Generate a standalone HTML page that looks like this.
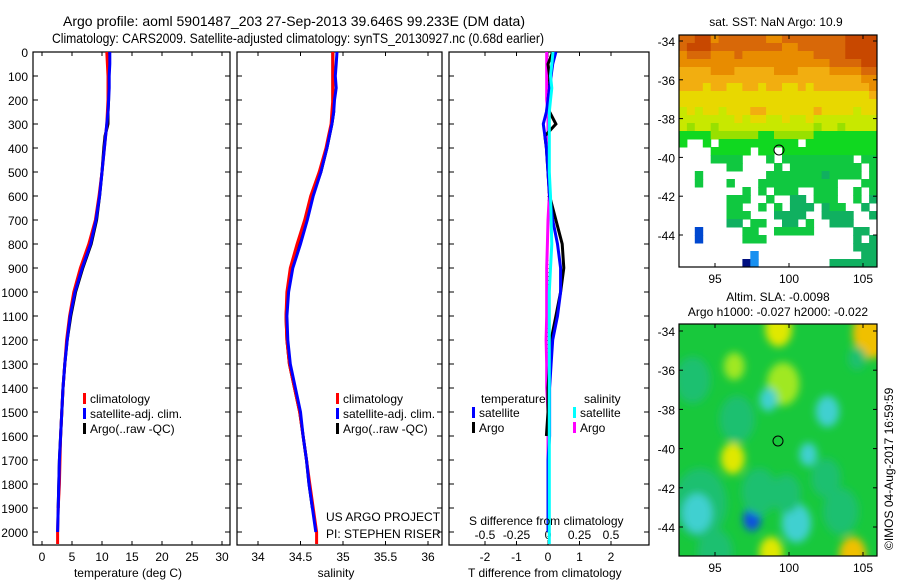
<!DOCTYPE html>
<html><head><meta charset="utf-8"><style>
body{margin:0;background:#fff;}
svg{display:block;font-family:"Liberation Sans",sans-serif;}
text{font-size:12px;fill:#000;}
</style></head><body>
<svg id="fig" width="900" height="580" viewBox="0 0 900 580">
<text x="63" y="26" textLength="462" lengthAdjust="spacingAndGlyphs" style="font-size:14px">Argo profile: aoml 5901487_203 27-Sep-2013 39.646S 99.233E (DM data)</text>
<text x="52" y="43" textLength="492" lengthAdjust="spacingAndGlyphs" style="font-size:14px">Climatology: CARS2009. Satellite-adjusted climatology: synTS_20130927.nc (0.68d earlier)</text>
<g id="p1"></g>
<g id="p2"></g>
<g id="p3"></g>
<g id="m1"></g>
<g id="m2"></g>
<text transform="translate(893,550) rotate(-90)" style="font-size:12px">©IMOS 04-Aug-2017 16:59:59</text>
</svg>
<script>
const depths=[0,50,100,150,200,250,300,350,400,500,600,700,800,900,1000,1100,1200,1300,1400,1500,1600,1700,1800,1900,2000,2050];
const tempClim=[10.8,10.9,11,11,11,10.9,10.8,10.6,10.4,10.0,9.5,8.9,7.8,6.4,5.3,4.6,4.1,3.8,3.5,3.3,3.1,3.0,2.9,2.7,2.6,2.6];
const tempSat=[11.3,11.3,11.2,11.2,11.1,11.0,10.8,10.6,10.4,10.0,9.6,9.0,8.1,6.7,5.5,4.7,4.2,3.8,3.5,3.3,3.1,2.9,2.8,2.7,2.6,null];
const tempArgo=[11.0,11.0,11.1,11.1,11.1,11.0,11.0,10.5,10.3,10.0,9.6,9.1,8.2,6.8,5.6,4.8,4.2,3.8,3.5,3.3,3.1,2.9,2.8,2.7,null,null];
const salClim=[34.88,34.88,34.88,34.88,34.88,34.87,34.86,34.83,34.80,34.72,34.62,34.55,34.46,34.38,34.34,34.33,34.34,34.37,34.43,34.49,34.53,34.57,34.61,34.65,34.69,34.69];
const salSat=[34.93,34.92,34.91,34.92,34.90,34.89,34.87,34.84,34.81,34.74,34.65,34.58,34.50,34.41,34.36,34.34,34.35,34.38,34.44,34.50,34.53,34.57,34.60,34.64,34.68,null];
const salArgo=[34.88,34.88,34.88,34.88,34.88,34.89,34.87,34.84,34.81,34.74,34.64,34.57,34.49,34.40,34.35,34.33,34.34,34.37,34.43,34.49,34.53,34.57,34.60,34.64,null,null];
const tDiffSat=[0.25,0.15,0.1,0.05,0.0,-0.05,-0.15,-0.1,-0.05,0.0,0.05,0.15,0.3,0.4,0.4,0.3,0.15,0.1,0.05,0.05,0.05,0.0,0.0,0.0,0.0,null];
const tDiffArgo=[0.15,0.0,0.05,0.05,0.0,0.05,0.25,-0.1,-0.05,0.0,0.05,0.25,0.45,0.5,0.4,0.25,0.1,0.05,0.0,0.0,-0.05,null,null,null,null,null];
const sDiffSat=[0.04,0.03,0.02,0.03,0.02,0.01,0.01,0.01,0.01,0.01,0.02,0.025,0.03,0.02,0.01,0.01,0.01,0.01,0.01,0.01,0.01,0.01,0.01,0.01,0.01,0.01];
const sDiffArgo=[-0.01,-0.01,-0.01,-0.01,-0.01,0.0,0.0,0.0,0.0,0.0,0.01,0.0,-0.005,-0.01,-0.01,-0.01,-0.015,-0.01,-0.01,0.0,0.0,0.0,0.0,0.0,0.0,null];
const depthTicks=[0,100,200,300,400,500,600,700,800,900,1000,1100,1200,1300,1400,1500,1600,1700,1800,1900,2000];
const tempTicks=[0,5,10,15,20,25,30];
const salTicks=[34,34.5,35,35.5,36];
const tdTicks=[-2,-1,0,1,2];
const sdTicks=[-0.5,-0.25,0,0.25,0.5];
const sdTickLabels=["-0.5","-0.25","0","0.25","0.5"];
const sstRows=[
"1100211111122111111110000","1000111111111221111110000","2111222122222222211110000",
"2222222222222222222111100","3333222333332223333222211","3333333333333333333333322",
"3334334433433443433333332","4444444444444444444444443","4444444444444444444444444",
"5454454443344444434444544","5555555454455455455555555","5655655555555555565565555",
"7777666666776666677777777","7..7.7777777777.777777777","....77777.77.777777777777",
"....8888...8.888888888.88","......88....8.888888888.8","..8........888888898888.8",
"..8...8...8888888888...88","........8.8.888..888..8.8","......888..8..99.888..8.9",
"......88..8.8.999.988..9.","......888...9999..9999..9","......99.88..99.8..999...",
"..b.....88..88888.....99.","..b.....888...........9.9","......................999",
".........c.............99","........nc.........999999"];
const slaLon=[99.3,105.6,96.3,99.6,98.6,102.6,104.6,96.2,101.3,94.0,93.8,97.5,100.5,98.0,98.8,104.3,95.0,103.5,93.5,99.8,102.5,96.5];
const slaLat=[-33.9,-34.1,-35.8,-36.7,-37.5,-38.1,-35.4,-40.5,-40.3,-42.8,-43.3,-43.6,-43.8,-42.2,-45.3,-45.4,-45.3,-43.2,-36.5,-42.3,-41.5,-38.5];
const slaRad=[0.9,1.3,0.7,1.1,0.6,0.8,0.6,0.8,0.6,1.8,1.0,0.6,1.0,1.2,0.8,0.9,1.2,1.2,1.2,1.0,1.0,1.2];
const slaLvl=[4,5,3,3,1,1,0,4,1,0,1,2,1,0,4,5,0,0,0,0,0,0];
const NS="http://www.w3.org/2000/svg";
function mk(tag,attrs,parent){const e=document.createElementNS(NS,tag);for(const k in attrs)e.setAttribute(k,attrs[k]);parent.appendChild(e);return e;}
function txt(s,x,y,anchor,parent,size){const t=mk('text',{x:x,y:y,'text-anchor':anchor||'start'},parent);if(size)t.style.fontSize=size+'px';t.textContent=s;return t;}
const yD=d=>52+d*0.24;
const Y0=52,Y1=545;
function panel(g,x0,x1){
  const r=mk('rect',{x:x0,y:Y0,width:x1-x0,height:Y1-Y0,fill:'#fff',stroke:'#000','stroke-width':1.2},g);
  
  
  depthTicks.forEach(d=>{mk('line',{x1:x0,x2:x0+5,y1:yD(d),y2:yD(d),stroke:'#000'},g);mk('line',{x1:x1,x2:x1-5,y1:yD(d),y2:yD(d),stroke:'#000'},g);});
}
function line(g,vals,fx,color,name,w){
  let pts=[];depths.forEach((d,i)=>{if(vals[i]!==null&&vals[i]!==undefined)pts.push(fx(vals[i]).toFixed(1)+','+yD(d).toFixed(1));});
  const p=mk('polyline',{points:pts.join(' '),fill:'none',stroke:color,'stroke-width':w||3,'stroke-linejoin':'miter'},g);
  
  
}
function legend(g,x,y,items){
  items.forEach((it,i)=>{mk('rect',{x:x,y:y+i*15-10,width:3,height:11,fill:it[1]},g);const t=txt(it[0],x+7,y+i*15,'start',g);
  
  });
}
const g1=document.getElementById('p1');
const xT=v=>42+v*6;
panel(g1,33,230);
depthTicks.forEach(d=>{const t=txt(String(d),28,yD(d)+5,'end',g1);

});
tempTicks.forEach(v=>{mk('line',{x1:xT(v),x2:xT(v),y1:Y0,y2:Y0+4,stroke:'#000'},g1);mk('line',{x1:xT(v),x2:xT(v),y1:Y1,y2:Y1-4,stroke:'#000'},g1);
const t=txt(String(v),xT(v),561,'middle',g1);

});
line(g1,tempArgo,xT,'#000','argo-temperature-line');
line(g1,tempClim,xT,'#f00','climatology-temperature-line');
line(g1,tempSat,xT,'#00f','satellite-temperature-line');
legend(g1,83,403,[['climatology','#f00'],['satellite-adj. clim.','#00f'],['Argo(..raw -QC)','#000']]);
const xl1=txt('temperature (deg C)',128,577,'middle',g1);


const g2=document.getElementById('p2');
const xS=v=>258+(v-34)*85;
panel(g2,237,442);
salTicks.forEach(v=>{mk('line',{x1:xS(v),x2:xS(v),y1:Y0,y2:Y0+4,stroke:'#000'},g2);mk('line',{x1:xS(v),x2:xS(v),y1:Y1,y2:Y1-4,stroke:'#000'},g2);
const t=txt(String(v),xS(v),561,'middle',g2);

});
line(g2,salArgo,xS,'#000','argo-salinity-line');
line(g2,salClim,xS,'#f00','climatology-salinity-line');
line(g2,salSat,xS,'#00f','satellite-salinity-line');
legend(g2,336,403,[['climatology','#f00'],['satellite-adj. clim.','#00f'],['Argo(..raw -QC)','#000']]);
const pr1=txt('US ARGO PROJECT',326,521,'start',g2);


const pr2=txt('PI: STEPHEN RISER',326,538,'start',g2);


const xl2=txt('salinity',336,577,'middle',g2);


const g3=document.getElementById('p3');
const xTD=v=>548+v*31.5;
const xSD=v=>548+v*4*31.5;
panel(g3,449,649);
tdTicks.forEach(v=>{mk('line',{x1:xTD(v),x2:xTD(v),y1:Y0,y2:Y0+4,stroke:'#000'},g3);mk('line',{x1:xTD(v),x2:xTD(v),y1:Y1,y2:Y1-4,stroke:'#000'},g3);
const t=txt(String(v),xTD(v),561,'middle',g3);

});
sdTicks.forEach((v,i)=>{const t=txt(sdTickLabels[i],xSD(v),539,'middle',g3);

});
mk('line',{x1:548,x2:548,y1:Y0,y2:Y1,stroke:'#000','stroke-dasharray':'1,3'},g3);
line(g3,sDiffArgo,xSD,'#f0f','argo-salinity-diff-line');
line(g3,tDiffArgo,xTD,'#000','argo-temperature-diff-line');
line(g3,tDiffSat,xTD,'#00f','satellite-temperature-diff-line');
line(g3,sDiffSat,xSD,'#0ff','satellite-salinity-diff-line');
txt('temperature',481,403,'start',g3);txt('salinity',584,403,'start',g3);
legend(g3,472,417,[['satellite','#00f'],['Argo','#000']]);
legend(g3,573,417,[['satellite','#0ff'],['Argo','#f0f']]);
const sdt=txt('S difference from climatology',469,525,'start',g3);


const xl3=txt('T difference from climatology',468,577,'start',g3);


const MX0=679,MX1=877;
const lonX=l=>715+(l-95)*14.8;
function mapAxes(g,y0,y1,latY){
  mk('rect',{x:MX0,y:y0,width:MX1-MX0,height:y1-y0,fill:'none',stroke:'#000','stroke-width':1.2},g);
  [95,100,105].forEach(l=>{mk('line',{x1:lonX(l),x2:lonX(l),y1:y0,y2:y0+4,stroke:'#000'},g);mk('line',{x1:lonX(l),x2:lonX(l),y1:y1,y2:y1-4,stroke:'#000'},g);
  const t=txt(String(l),lonX(l),y1+16,'middle',g);
  
  });
  [-34,-36,-38,-40,-42,-44].forEach(l=>{mk('line',{x1:MX0,x2:MX0+4,y1:latY(l),y2:latY(l),stroke:'#000'},g);mk('line',{x1:MX1,x2:MX1-4,y1:latY(l),y2:latY(l),stroke:'#000'},g);
  const t=txt(String(l),MX0-4,latY(l)+5,'end',g);
  
  });
}
const m1=document.getElementById('m1');
const sstColors={'0':'#c84800','1':'#d86808','2':'#e88c00','3':'#f2ae10','4':'#e8d800','5':'#c8e800','6':'#98e000','7':'#10d820','8':'#10c840','9':'#10b060','b':'#0048d0','c':'#1890f0','n':'#001080'};
const sstTop=35,sstBot=267;
const cw=(MX1-MX0)/25,ch=(sstBot-sstTop)/sstRows.length;
sstRows.forEach((row,r)=>{for(let c=0;c<25;c++){const k=row[c];if(!k||k==='.')continue;
  const cell=mk('rect',{x:(MX0+c*cw).toFixed(1),y:(sstTop+r*ch).toFixed(1),width:(cw+0.5).toFixed(1),height:(ch+0.5).toFixed(1),fill:sstColors[k]},m1);
  
  }});
const lat1Y=l=>41+(-34-l)*19.4;
mapAxes(m1,sstTop,sstBot,lat1Y);
mk('circle',{cx:779,cy:150,r:5,fill:'none',stroke:'#000'},m1);
const t1=txt('sat. SST: NaN Argo: 10.9',776,26,'middle',m1);


const m2=document.getElementById('m2');
const slaTop=324,slaBot=556;
const lat2Y=l=>331+(-34-l)*19.6;
const defs=mk('defs',{},m2);
const cp=mk('clipPath',{id:'slaclip'},defs);mk('rect',{x:MX0,y:slaTop,width:MX1-MX0,height:slaBot-slaTop},cp);
const fl=mk('filter',{id:'blur',x:'-50%',y:'-50%',width:'200%',height:'200%'},defs);mk('feGaussianBlur',{stdDeviation:4},fl);
const slaColors=['#1cc070','#40d0d0','#1050e0','#a0e820','#e0e800','#f0c000'];
const gc=mk('g',{'clip-path':'url(#slaclip)'},m2);
mk('rect',{x:MX0,y:slaTop,width:MX1-MX0,height:slaBot-slaTop,fill:'#18c83c'},gc);
const gb=mk('g',{filter:'url(#blur)'},gc);
slaLon.forEach((lo,i)=>{const b=mk('ellipse',{cx:lonX(slaLon[i]),cy:lat2Y(slaLat[i]),rx:slaRad[i]*14.8,ry:slaRad[i]*19.6,fill:slaColors[slaLvl[i]]},gb);

});
mapAxes(m2,slaTop,slaBot,lat2Y);
mk('circle',{cx:778,cy:441,r:5,fill:'none',stroke:'#000'},m2);
const t2=txt('Altim. SLA: -0.0098',778,301,'middle',m2);


const t3=txt('Argo h1000: -0.027 h2000: -0.022',778,316,'middle',m2);


</script>
</body></html>
